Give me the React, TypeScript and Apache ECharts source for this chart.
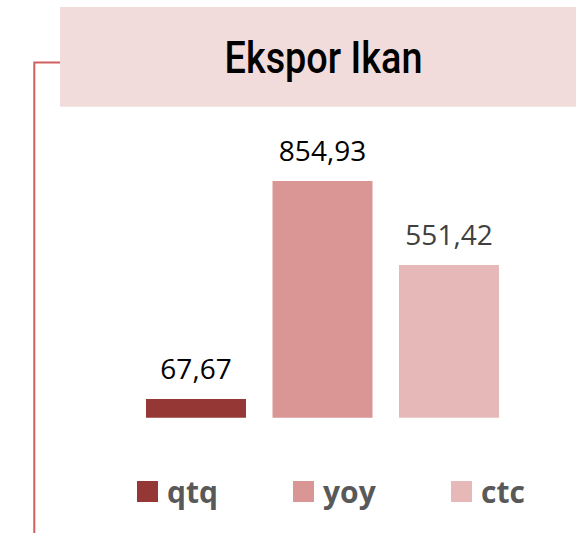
import React, { useEffect, useRef } from "react";
import * as echarts from "echarts";

const title = "Ekspor Ikan";
const categories = ["Ekspor Ikan"];
const seriesNames = ["qtq", "yoy", "ctc"];
const seriesValues = [67.67, 854.93, 551.42];
const seriesColors = ["#953735", "#D99694", "#E6B9B8"];
const labelColors = ["#000000", "#000000", "#404040"];

export default function App() {
  const ref = useRef<HTMLDivElement>(null);
  useEffect(() => {
    if (!ref.current) return;
    const chart = echarts.init(ref.current, null, { renderer: "svg" });
    const legendLefts = [137, 293, 451];
    chart.setOption({
      animation: false,
      backgroundColor: "#ffffff",
      grid: { left: 100, right: 31, top: 181, bottom: 115.3 },
      xAxis: {
        type: "category",
        data: categories,
        show: false,
      },
      yAxis: { type: "value", min: 0, max: 854.93, show: false },
      legend: seriesNames.map((n, i) => ({
        data: [n],
        left: legendLefts[i],
        top: 476.5,
        padding: 0,
        icon: "rect",
        itemWidth: 21,
        itemHeight: 21,
        selectedMode: false,
        textStyle: {
          fontFamily: "Open Sans",
          fontWeight: "bold",
          fontSize: 30,
          color: "#595959",
          padding: [0, 0, 0, 4],
        },
      })),
      series: seriesNames.map((n, i) => ({
        type: "bar",
        name: n,
        data: [seriesValues[i]],
        barWidth: 100,
        barGap: "26.5%",
        itemStyle: { color: seriesColors[i] },
        label: {
          show: true,
          position: "top",
          distance: 17,
          fontFamily: "Open Sans",
          fontSize: 28,
          color: labelColors[i],
          formatter: (p: any) => Number(p.value).toFixed(2).replace(".", ","),
        },
      })),
      graphic: [
        {
          type: "rect",
          shape: { x: 60, y: 7, width: 516, height: 99.7 },
          style: { fill: "#F2DCDB" },
          silent: true,
        },
        {
          type: "polyline",
          shape: { points: [[34.3, 533], [34.3, 62.5], [60, 62.5]] },
          style: { stroke: "#D0605F", lineWidth: 2, fill: "none" },
          silent: true,
        },
        {
          type: "text",
          x: 323.5,
          y: 58,
          scaleX: 0.86,
          style: {
            text: title,
            font: "500 44px Roboto",
            fill: "#000000",
            textAlign: "center",
            textVerticalAlign: "middle",
            align: "center",
            verticalAlign: "middle",
          },
          silent: true,
        },
      ],
    });
    return () => chart.dispose();
  }, []);
  return (
    <div
      ref={ref}
      style={{ position: "absolute", left: 0, top: 0, width: 576, height: 533 }}
    />
  );
}
